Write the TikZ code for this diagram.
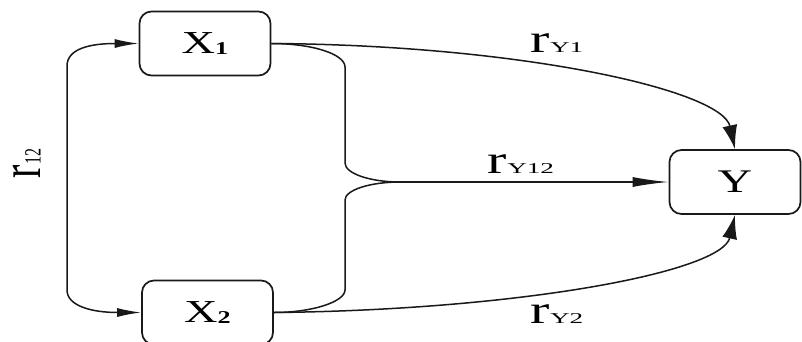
\documentclass[tikz,border=0pt]{standalone}
\usepackage{fontspec}
\setmainfont{Liberation Serif}
\usetikzlibrary{arrows.meta}
\newcommand{\hs}[1]{\scalebox{1.45}[1]{#1}}
\newcommand{\fsz}[1]{\fontsize{#1}{#1}\selectfont}
\newcommand{\subs}[1]{{\fsz{15}\scalebox{1.25}[1]{#1}}}
\tikzset{
  box/.style={draw=black!90, line width=1.7pt, rounded corners=12pt,
    minimum width=131pt, minimum height=64pt, inner sep=0pt},
  conn/.style={line width=1.5pt, draw=black!90},
  lbl/.style={inner sep=0pt, anchor=base},
  tipH/.style={-{Latex[length=24pt,width=9pt]}},
  tipM/.style={-{Latex[length=36pt,width=10pt]}},
  tipV/.style={-{Latex[length=24pt,width=15pt]}},
}
\begin{document}
\begin{tikzpicture}[x=1pt,y=-1pt]
\clip (0,0) rectangle (802,341);
\fill[white] (0,0) rectangle (802,341);

\node[box] (X1) at (205,43.5) {\hs{\fsz{32}X\raisebox{-1pt}{\fsz{18}\bfseries 1}}};
\node[box] (X2) at (207.5,312.5) {\hs{\fsz{32}X\raisebox{-1pt}{\fsz{18}\bfseries 2}}};
\node[box] (Y) at (735,182) {\hs{\fsz{33}Y}};

\node[lbl] (lY1) at (557,52) {\hs{\fsz{40}r\subs{Y1}}};
\node[lbl] (lY12) at (521,173) {\hs{\fsz{40}r\subs{Y12}}};
\node[lbl] (lY2) at (557,323) {\hs{\fsz{40}r\subs{Y2}}};
\node[inner sep=0pt, rotate=90] (l12) at (27,163.5) {\scalebox{1}[1.45]{\fsz{40}r{\fsz{16}12}}};

% r12 double arrow
\draw[conn, {Latex[length=24pt,width=9pt]}-{Latex[length=24pt,width=9pt]}]
  (X1.west) .. controls (92,43.5) and (67,48) .. (67,66)
  -- (67,290) .. controls (67,306) and (92,312.5) .. (X2.west);

% direct paths
\draw[conn, tipV] (X1.east) .. controls (520,45) and (722,90) .. (Y.north);
\draw[conn, tipV] (X2.east) .. controls (520,310) and (722,272) .. (Y.south);

% joint path
\coordinate (J) at (400,182);
\draw[conn] (X1.east) .. controls (312,43.5) and (345,54) .. (345,67)
  -- (345,163) .. controls (345,173.5) and (370,182) .. (J);
\draw[conn] (X2.east) .. controls (313,312.5) and (345,301.5) .. (345,290)
  -- (345,200) .. controls (345,190) and (370,182) .. (J);
\draw[conn, tipM] (J) -- (Y.west);
\end{tikzpicture}
\end{document}
